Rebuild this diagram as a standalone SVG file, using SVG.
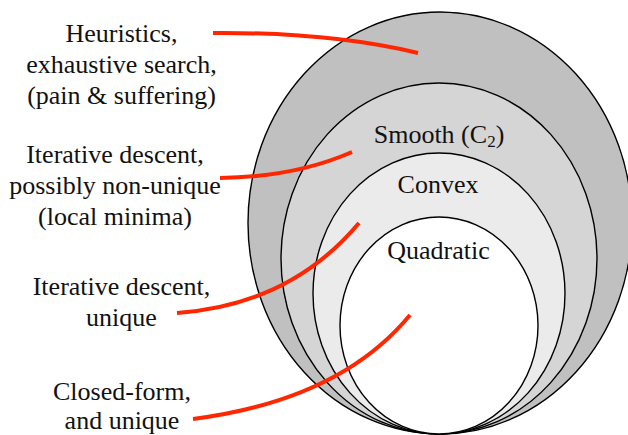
<svg xmlns="http://www.w3.org/2000/svg" width="628" height="435" viewBox="0 0 628 435">
<style>
  .t { font-family: "Liberation Serif", "Times New Roman", Times, "DejaVu Serif", serif; font-size: 26px; fill: #111; text-anchor: middle; }
  .e { stroke: #000; stroke-width: 1.4; }
  .c { fill: none; stroke: #ff2600; stroke-width: 4; stroke-linecap: butt; }
</style>
<rect width="628" height="435" fill="#fff"/>
<g id="set-all">
  <ellipse class="e" cx="440" cy="223" rx="192" ry="211" fill="#c0c0c0"/>
</g>
<g id="set-smooth">
  <ellipse class="e" cx="439" cy="258.5" rx="158" ry="175.5" fill="#d5d5d5"/>
  <text class="t" x="439" y="143">Smooth (C<tspan font-size="17" dy="4">2</tspan><tspan dy="-4">)</tspan></text>
</g>
<g id="set-convex">
  <ellipse class="e" cx="439" cy="293.5" rx="126" ry="140.5" fill="#ebebeb"/>
  <text class="t" x="438" y="193">Convex</text>
</g>
<g id="set-quadratic">
  <ellipse class="e" cx="439" cy="325.5" rx="99" ry="108.5" fill="#ffffff"/>
  <text class="t" x="438.5" y="259">Quadratic</text>
</g>
<g id="label-heuristics">
  <text class="t" x="121.5" y="42">Heuristics,</text>
  <text class="t" x="121.5" y="73">exhaustive search,</text>
  <text class="t" x="121.5" y="104">(pain &amp; suffering)</text>
</g>
<g id="label-nonunique">
  <text class="t" x="115" y="163">Iterative descent,</text>
  <text class="t" x="115" y="194">possibly non-unique</text>
  <text class="t" x="115" y="225">(local minima)</text>
</g>
<g id="label-unique">
  <text class="t" x="121.5" y="295">Iterative descent,</text>
  <text class="t" x="121.5" y="326">unique</text>
</g>
<g id="label-closed">
  <text class="t" x="122" y="400">Closed-form,</text>
  <text class="t" x="122" y="429">and unique</text>
</g>
<g id="connectors">
  <path class="c" d="M213,33 Q330,32 418,53"/>
  <path class="c" d="M220,178 Q295,177 352,152"/>
  <path class="c" d="M177,313 Q290,305 359,223"/>
  <path class="c" d="M193,419 Q340,400 410,315"/>
</g>
</svg>
